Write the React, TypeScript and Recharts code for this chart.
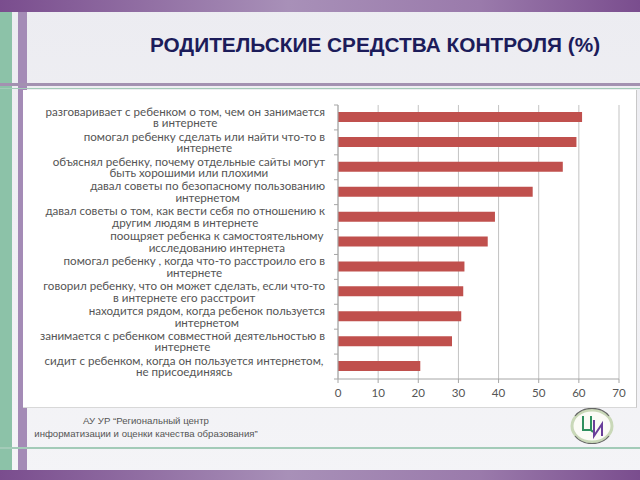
import React from "react";
import { BarChart, Bar, XAxis, YAxis, CartesianGrid } from "recharts";

const categories = [
  "разговаривает с ребенком о том, чем он занимается\nв интернете",
  "помогал ребенку сделать или найти что-то в\nинтернете",
  "объяснял ребенку, почему отдельные сайты могут\nбыть хорошими или плохими",
  "давал советы по безопасному пользованию\nинтернетом",
  "давал советы о том, как вести себя по отношению к\nдругим людям в интернете",
  "поощряет ребенка  к самостоятельному\nисследованию интернета",
  "помогал ребенку , когда что-то расстроило его в\nинтернете",
  "говорил ребенку, что он может сделать, если что-то\nв интернете его расстроит",
  "находится рядом, когда ребенок пользуется\nинтернетом",
  "занимается с ребенком совместной деятельностью в\nинтернете",
  "сидит с ребенком,  когда он пользуется интернетом,\nне присоединяясь",
];
const values = [60.8, 59.4, 56.0, 48.5, 39.1, 37.3, 31.5, 31.2, 30.7, 28.4, 20.5];
const xTicks = [0, 10, 20, 30, 40, 50, 60, 70];

const TITLE = "РОДИТЕЛЬСКИЕ СРЕДСТВА КОНТРОЛЯ (%)";
const FOOTER = ["АУ УР “Региональный центр", "информатизации и  оценки качества образования”"];

const data = categories.map((label, i) => ({ label, value: values[i] }));

const CHART_W = 614;
const CHART_H = 318;
const MARGIN = { top: 15, right: 18, left: 0, bottom: 0 };
const Y_W = 315;
const X_H = 29;
const BAND = (CHART_H - MARGIN.top - X_H) / categories.length;
const LABEL_FONT = "11.6px Lato";

let ctx: CanvasRenderingContext2D | null = null;
const measure = (s: string) => {
  if (!ctx) ctx = document.createElement("canvas").getContext("2d");
  if (!ctx) return s.length * 5.7;
  ctx.font = LABEL_FONT;
  return ctx.measureText(s).width;
};

const CategoryTick = (props: any) => {
  const { y, payload, index } = props;
  const lines: string[] = String(payload.value).split("\n");
  const w = Math.max(...lines.map(measure));
  const right = Y_W - 13;
  const cx = right - w / 2;
  const lh = 11.6;
  const y0 = y - ((lines.length - 1) * lh) / 2;
  return (
    <g>
      <line x1={Y_W - 4} x2={Y_W} y1={y - BAND / 2} y2={y - BAND / 2} stroke="#a6a6a6" />
      {index === categories.length - 1 && (
        <line x1={Y_W - 4} x2={Y_W} y1={y + BAND / 2} y2={y + BAND / 2} stroke="#a6a6a6" />
      )}
      <text textAnchor="middle" fill="#555555" style={{ font: LABEL_FONT }}>
        {lines.map((l, i) => (
          <tspan key={i} x={cx} y={y0 + i * lh} dy="0.35em">
            {l}
          </tspan>
        ))}
      </text>
    </g>
  );
};

const Logo = () => (
  <svg width={46} height={36} style={{ position: "absolute", left: 569, top: 408 }}>
    <ellipse cx={23} cy={18} rx={20} ry={16} fill="#fbfbf6" stroke="#c9d8b8" strokeWidth={3} />
    <path d="M 6 8 A 20 16 0 0 1 40 8" fill="none" stroke="#666" strokeWidth={1.2} />
    <path d="M 6 28 A 20 16 0 0 0 40 28" fill="none" stroke="#666" strokeWidth={1.2} />
    <path d="M 14 8 L 14 22 L 22 22 L 22 8 M 22 22 L 24 24" fill="none" stroke="#2f8f5f" strokeWidth={2} />
    <path d="M 25 12 L 25 28 L 33 16 L 33 28" fill="none" stroke="#6a3f9a" strokeWidth={2} />
  </svg>
);

export default function App() {
  return (
    <div
      style={{
        position: "absolute",
        left: 0,
        top: 0,
        width: 640,
        height: 480,
        overflow: "hidden",
        background: "linear-gradient(#ececf1, #f4f4f7)",
        fontFamily: "'Liberation Sans', Arial, sans-serif",
      }}
    >
      <div style={{ position: "absolute", left: 0, top: 0, width: 640, height: 12, background: "linear-gradient(90deg, #7a4d8e, #a890b8 45%, #9a7aab 75%, #7a4d8e)" }} />
      <div style={{ position: "absolute", left: 0, top: 470, width: 640, height: 10, background: "linear-gradient(90deg, #7a4d8e, #a890b8 45%, #9a7aab 75%, #7a4d8e)" }} />
      <div style={{ position: "absolute", left: 0, top: 12, width: 12, height: 458, background: "#8cc2a8" }} />
      <div style={{ position: "absolute", left: 18, top: 12, width: 9, height: 458, background: "#a48bb6" }} />
      <div style={{ position: "absolute", left: 0, top: 83, width: 640, height: 3, background: "#a391b1" }} />
      <div style={{ position: "absolute", left: 0, top: 88, width: 640, height: 1, background: "#a3cbb8" }} />
      <div style={{ position: "absolute", left: 0, top: 447, width: 640, height: 2, background: "#a3cbb8" }} />
      <div
        style={{
          position: "absolute",
          left: 175,
          width: 400,
          top: 33,
          lineHeight: "24px",
          textAlign: "center",
          whiteSpace: "nowrap",
          display: "flex",
          justifyContent: "center",
          fontWeight: "bold",
          fontSize: 20.8,
          color: "#1c1c5a",
        }}
      >
        {TITLE}
      </div>
      <div style={{ position: "absolute", left: 23, top: 90, width: CHART_W, height: CHART_H, background: "#ffffff", borderRight: "1px solid #c8c8c8", borderBottom: "1px solid #d8d8d8", boxSizing: "border-box" }}>
        <BarChart width={CHART_W} height={CHART_H} data={data} layout="vertical" margin={MARGIN}>
          <CartesianGrid horizontal={false} stroke="#c3c3c3" />
          <XAxis
            type="number"
            domain={[0, 70]}
            ticks={xTicks}
            height={X_H}
            axisLine={{ stroke: "#a6a6a6" }}
            tickLine={{ stroke: "#a6a6a6" }}
            tickSize={4}
            tickMargin={6}
            tick={{ fill: "#555555", fontSize: 11.6, fontFamily: "Lato" }}
          />
          <YAxis
            type="category"
            dataKey="label"
            width={Y_W}
            axisLine={{ stroke: "#a6a6a6" }}
            tickLine={false}
            tick={<CategoryTick />}
            interval={0}
          />
          <Bar dataKey="value" fill="#c0504d" barSize={10} isAnimationActive={false} />
        </BarChart>
      </div>
      <div style={{ position: "absolute", left: -4, width: 300, top: 414, textAlign: "center", fontSize: 9.6, lineHeight: "13px", color: "#555", whiteSpace: "nowrap" }}>
        {FOOTER[0]}
        <br />
        {FOOTER[1]}
      </div>
      <Logo />
    </div>
  );
}
